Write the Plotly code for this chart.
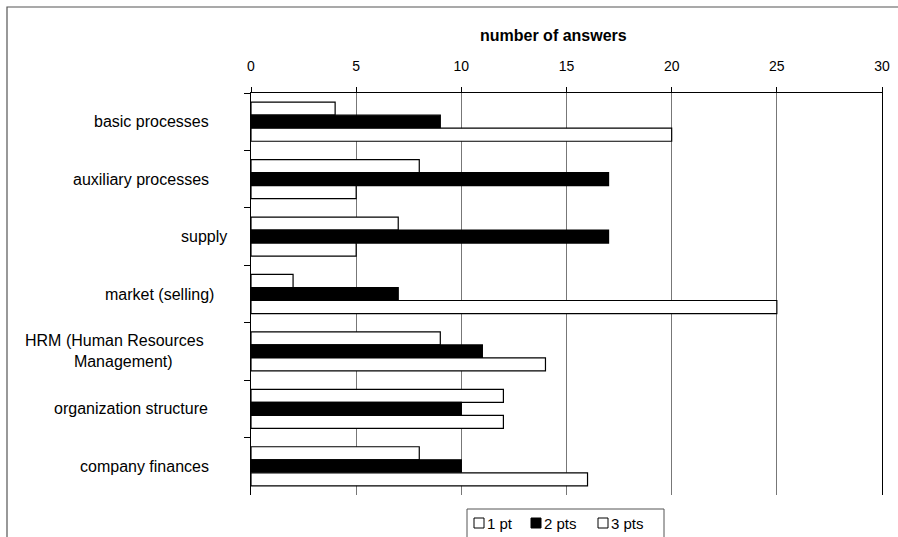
import plotly.graph_objects as go

# Survey areas and number of answers per score
categories = [
    "basic processes",
    "auxiliary processes",
    "supply",
    "market (selling)",
    "HRM (Human Resources<br>Management)",
    "organization structure",
    "company finances",
]
pts1 = [4, 8, 7, 2, 9, 12, 8]
pts2 = [9, 17, 17, 7, 11, 10, 10]
pts3 = [20, 5, 5, 25, 14, 12, 16]
series_names = ["1 pt", "2 pts", "3 pts"]
x_ticks = [0, 5, 10, 15, 20, 25, 30]

FONT = "Liberation Sans, Arial, sans-serif"

# plot area in pixels
L, R, T, B = 251, 16, 93, 42
W, H = 898, 537
pw = W - L - R
ph = H - T - B


def px_x(p):
    return (p - L) / pw


def px_y(p):
    return (H - B - p) / ph


fig = go.Figure()
fills = ["white", "black", "white"]
for name, vals, fill in zip(series_names, [pts1, pts2, pts3], fills):
    fig.add_trace(go.Bar(
        name=name,
        y=categories,
        x=vals,
        orientation="h",
        marker=dict(color=fill, line=dict(color="black", width=1.2)),
    ))

fig.update_layout(
    width=W, height=H,
    margin=dict(l=L, r=R, t=T, b=B, autoexpand=False),
    paper_bgcolor="white",
    plot_bgcolor="white",
    barmode="group",
    bargap=0.32,
    bargroupgap=0,
    font=dict(family=FONT, color="black", size=14),
    showlegend=False,
)

fig.update_xaxes(
    side="top",
    range=[0, 30],
    tickvals=x_ticks,
    ticks="outside", ticklen=5, tickcolor="black",
    ticklabelstandoff=10,
    showline=True, linecolor="black", linewidth=1.2,
    showgrid=True, gridcolor="#777", gridwidth=1,
    zeroline=False,
    tickfont=dict(size=14),
    automargin=False,
)
fig.update_yaxes(
    autorange="reversed",
    showticklabels=False,
    ticks="outside", ticklen=6, tickcolor="black",
    tickson="boundaries",
    showline=True, linecolor="black", linewidth=1.2, mirror=True,
    showgrid=False, zeroline=False,
    automargin=False,
)

# category labels on the left
label_right = [211, 211, 229, 216, None, 210, 211]
for cat, xr in zip(categories, label_right):
    if xr is None:
        # two-line label, second line set a little to the right
        first, second = cat.split("<br>")
        fig.add_annotation(
            x=px_x(114), xref="paper", y=cat, yref="y",
            text=first + "<br>" + "&nbsp;" * 4 + second,
            showarrow=False, xanchor="center", align="center",
            font=dict(size=16),
        )
    else:
        fig.add_annotation(
            x=px_x(xr), xref="paper", y=cat, yref="y",
            text=cat, showarrow=False, xanchor="right",
            font=dict(size=16),
        )

# axis title above the tick labels
fig.add_annotation(
    x=px_x(553), xref="paper", y=px_y(36), yref="paper",
    text="<b>number of answers</b>", showarrow=False,
    xanchor="center", yanchor="middle", font=dict(size=16),
)

# outer chart frame
fig.add_shape(
    type="rect", xref="paper", yref="paper",
    x0=px_x(7), x1=px_x(W + 5), y0=px_y(H + 5), y1=px_y(7),
    line=dict(color="#555", width=1.2), fillcolor="rgba(0,0,0,0)",
    layer="below",
)

# legend: framed box with a swatch and a label per series
fig.add_shape(
    type="rect", xref="paper", yref="paper",
    x0=px_x(467), x1=px_x(664), y0=px_y(H + 5), y1=px_y(509),
    line=dict(color="#555", width=1), fillcolor="white",
)
swatch_left = [474, 531, 598]
for name, fill, sx in zip(series_names, fills, swatch_left):
    fig.add_shape(
        type="rect", xref="paper", yref="paper",
        x0=px_x(sx), x1=px_x(sx + 10), y0=px_y(528), y1=px_y(518),
        line=dict(color="black", width=1), fillcolor=fill,
    )
    fig.add_annotation(
        x=px_x(sx + 11), xref="paper", y=px_y(523), yref="paper",
        text=name, showarrow=False, xanchor="left", yanchor="middle",
        font=dict(size=15),
    )

fig.write_html("out.html")
